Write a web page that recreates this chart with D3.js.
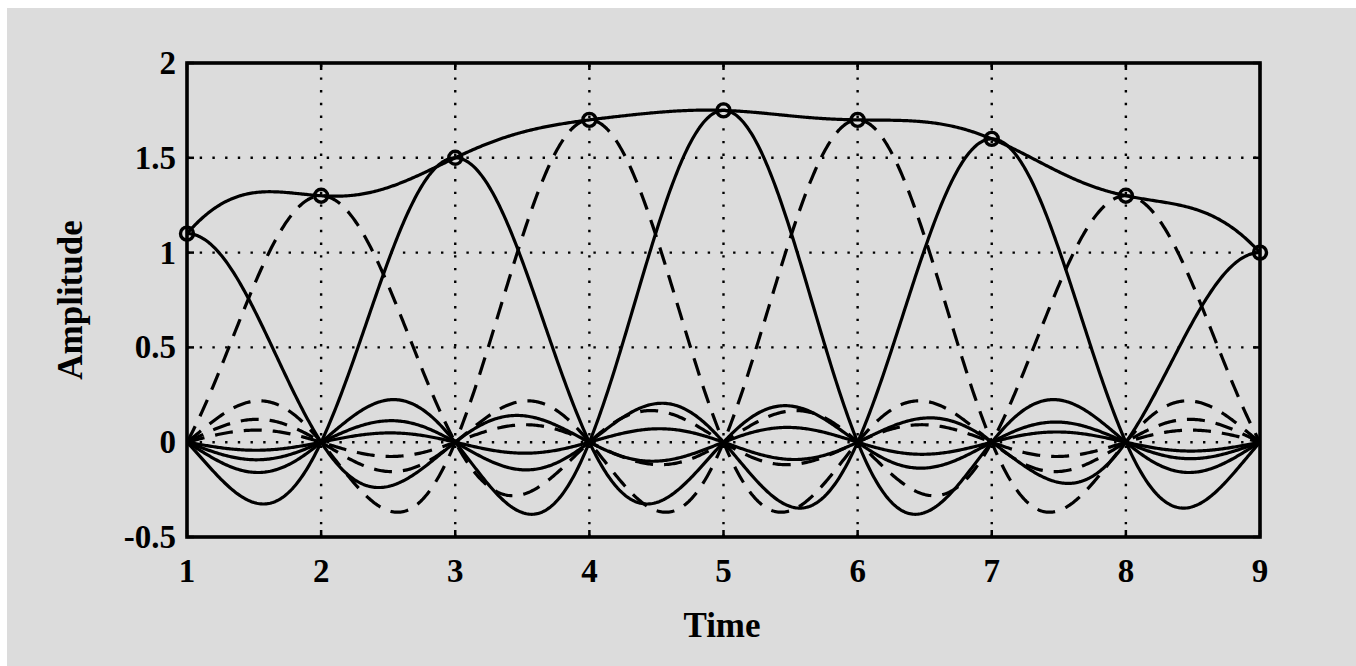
<!DOCTYPE html>
<html>
<head>
<meta charset="utf-8">
<script src="https://cdn.jsdelivr.net/npm/d3@7"></script>
<style>
  html, body { margin: 0; padding: 0; background: #fff; }
  svg { display: block; }
  text { font-family: "Liberation Serif", "DejaVu Serif", serif; font-weight: bold; fill: #000; }
</style>
</head>
<body>
<div id="main"></div>
<script>
// sample instants and amplitudes
const sampleTimes = [1, 2, 3, 4, 5, 6, 7, 8, 9]
const sampleValues = [1.1, 1.3, 1.5, 1.7, 1.75, 1.7, 1.6, 1.3, 1.0]
const xTicks = [1, 2, 3, 4, 5, 6, 7, 8, 9]
const yTicks = [-0.5, 0, 0.5, 1, 1.5, 2]

const W = 1356, H = 666
const plotL = 187, plotR = 1260, plotT = 63, plotB = 537

const svg = d3.select('#main').append('svg').attr('width', W).attr('height', H)
svg.append('rect').attr('x', 7).attr('y', 8).attr('width', W - 7).attr('height', H - 8).attr('fill', '#dcdcdc')

const x = d3.scaleLinear().domain([1, 9]).range([plotL, plotR])
const y = d3.scaleLinear().domain([-0.5, 2]).range([plotB, plotT])

svg.append('defs').append('clipPath').attr('id', 'plotClip')
  .append('rect').attr('x', plotL).attr('y', plotT).attr('width', plotR - plotL).attr('height', plotB - plotT)

// dotted grid
const grid = svg.append('g').attr('class', 'grid')
  .attr('stroke', '#000').attr('stroke-width', 2.4).attr('stroke-dasharray', '2.4,10.3')
grid.selectAll('.gx').data(xTicks.slice(1, -1)).join('line').attr('class', 'gx')
  .attr('x1', d => x(d)).attr('x2', d => x(d)).attr('y1', plotB).attr('y2', plotT)
grid.selectAll('.gy').data(yTicks.slice(1, -1)).join('line').attr('class', 'gy')
  .attr('y1', d => y(d)).attr('y2', d => y(d)).attr('x1', plotL).attr('x2', plotR)

// band-limited interpolation: each sample contributes a scaled sinc
const sinc = u => u === 0 ? 1 : Math.sin(Math.PI * u) / (Math.PI * u)
const tGrid = d3.range(1, 9.0001, 0.01)
const line = d3.line().x(d => x(d[0])).y(d => y(d[1]))

const curves = svg.append('g').attr('clip-path', 'url(#plotClip)')
  .attr('fill', 'none').attr('stroke', '#000').attr('stroke-width', 3.2).attr('stroke-linejoin', 'round')

curves.selectAll('.sinc').data(sampleTimes).join('path').attr('class', 'sinc')
  .attr('stroke-dasharray', (d, i) => i % 2 ? '18,11' : null)
  .attr('d', (d, i) => line(tGrid.map(t => [t, sampleValues[i] * sinc(t - d)])))

curves.append('path')
  .attr('d', line(tGrid.map(t => [t, d3.sum(sampleTimes, (s, i) => sampleValues[i] * sinc(t - s))])))

svg.append('g').selectAll('circle').data(sampleTimes).join('circle')
  .attr('cx', d => x(d)).attr('cy', (d, i) => y(sampleValues[i])).attr('r', 6.5)
  .attr('fill', 'none').attr('stroke', '#000').attr('stroke-width', 3.4)

// frame with inward ticks
svg.append('rect').attr('x', plotL).attr('y', plotT).attr('width', plotR - plotL).attr('height', plotB - plotT)
  .attr('fill', 'none').attr('stroke', '#000').attr('stroke-width', 3.6)
const ticks = svg.append('g').attr('stroke', '#000').attr('stroke-width', 2.5)
xTicks.forEach(d => {
  ticks.append('line').attr('x1', x(d)).attr('x2', x(d)).attr('y1', plotB).attr('y2', plotB - 7)
  ticks.append('line').attr('x1', x(d)).attr('x2', x(d)).attr('y1', plotT).attr('y2', plotT + 7)
})
yTicks.forEach(d => {
  ticks.append('line').attr('y1', y(d)).attr('y2', y(d)).attr('x1', plotL).attr('x2', plotL + 7)
  ticks.append('line').attr('y1', y(d)).attr('y2', y(d)).attr('x1', plotR).attr('x2', plotR - 7)
})

// tick labels
svg.append('g').selectAll('text').data(xTicks).join('text')
  .attr('x', d => x(d)).attr('y', 582).attr('text-anchor', 'middle').attr('font-size', 33).text(d => d)
svg.append('g').selectAll('text').data(yTicks).join('text')
  .attr('x', 176).attr('y', d => y(d) + 11).attr('text-anchor', 'end').attr('font-size', 33).text(d => d)

svg.append('text').attr('x', 722).attr('y', 637).attr('text-anchor', 'middle').attr('font-size', 35).text('Time')
svg.append('text').attr('transform', 'translate(82,300) rotate(-90)').attr('text-anchor', 'middle')
  .attr('font-size', 35).text('Amplitude')
</script>
</body>
</html>
